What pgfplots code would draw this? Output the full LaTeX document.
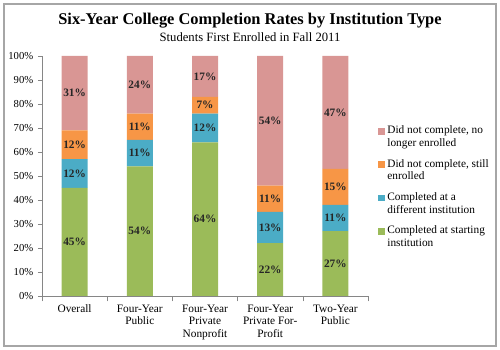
\documentclass[border=0pt]{standalone}
\usepackage{fontspec}
\setmainfont{Liberation Serif}
\usepackage{pgfplots}
\pgfplotsset{compat=1.18}
\definecolor{cpink}{RGB}{217,150,148}
\definecolor{corange}{RGB}{247,150,70}
\definecolor{cblue}{RGB}{75,172,198}
\definecolor{cgreen}{RGB}{155,187,89}
\definecolor{axgray}{RGB}{134,134,134}
\begin{document}
\begin{tikzpicture}[x=0.75pt,y=0.75pt]
\useasboundingbox (0,0) rectangle (500,350);
\draw[color=black!35, line width=1.2pt] (4,4) rectangle (496,346);
\node[font=\fontsize{12.3}{14}\selectfont\bfseries] at (250,329) {Six-Year College Completion Rates by Institution Type};
\node[font=\fontsize{9.5}{11}\selectfont] at (250,313) {Students First Enrolled in Fall 2011};
\begin{axis}[
  at={(31.5pt,40.5pt)}, anchor=south west,
  scale only axis, width=244.5pt, height=180pt,
  ybar stacked, bar width=19.5pt,
  xmin=-0.5, xmax=4.5, ymin=0, ymax=100,
  axis x line*=bottom, axis y line*=left,
  axis line style={axgray},
  xtick={0,1,2,3,4},
  xticklabels={Overall, Four-Year\\Public, Four-Year\\Private\\Nonprofit, Four-Year\\Private For-\\Profit, Two-Year\\Public},
  x tick label style={align=center, font=\fontsize{8.5}{9.4}\selectfont},
  minor xtick={-0.5,0.5,...,4.5},
  ytick={0,10,...,100},
  yticklabels={0\%,10\%,20\%,30\%,40\%,50\%,60\%,70\%,80\%,90\%,100\%},
  y tick label style={font=\fontsize{8}{9}\selectfont},
  tick align=outside,
  tick style={axgray},
  major x tick style={draw=none},
  major tick length=3pt, minor tick length=4pt,
  /pgf/number format/assume math mode=true,
  visualization depends on={rawy \as \rawy},
  nodes near coords={\pgfmathprintnumber{\rawy}\%},
  every node near coord/.append style={anchor=center, font=\fontsize{8.5}{9}\selectfont\bfseries, text=black!85},
  legend style={at={(rel axis cs:1.03,0.72)}, anchor=north west, draw=none, fill=none, inner sep=0pt, font=\fontsize{8.5}{9.4}\selectfont, row sep=4.2pt, cells={align=left}},
  legend cell align=left,
  reverse legend,
  every axis plot post/.append style={legend image code/.code={\fill[##1] (0pt,2pt) rectangle (5pt,7pt);}},
]
\addplot[fill=cgreen, draw=none] coordinates {(0,45) (1,54) (2,64) (3,22) (4,27)};
\addplot[fill=cblue, draw=none] coordinates {(0,12) (1,11) (2,12) (3,13) (4,11)};
\addplot[fill=corange, draw=none] coordinates {(0,12) (1,11) (2,7) (3,11) (4,15)};
\addplot[fill=cpink, draw=none] coordinates {(0,31) (1,24) (2,17) (3,54) (4,47)};
\legend{Completed at starting\\institution, Completed at a\\different institution, {Did not complete, still\\enrolled}, {Did not complete, no\\longer enrolled}}
\end{axis}
\end{tikzpicture}
\end{document}
